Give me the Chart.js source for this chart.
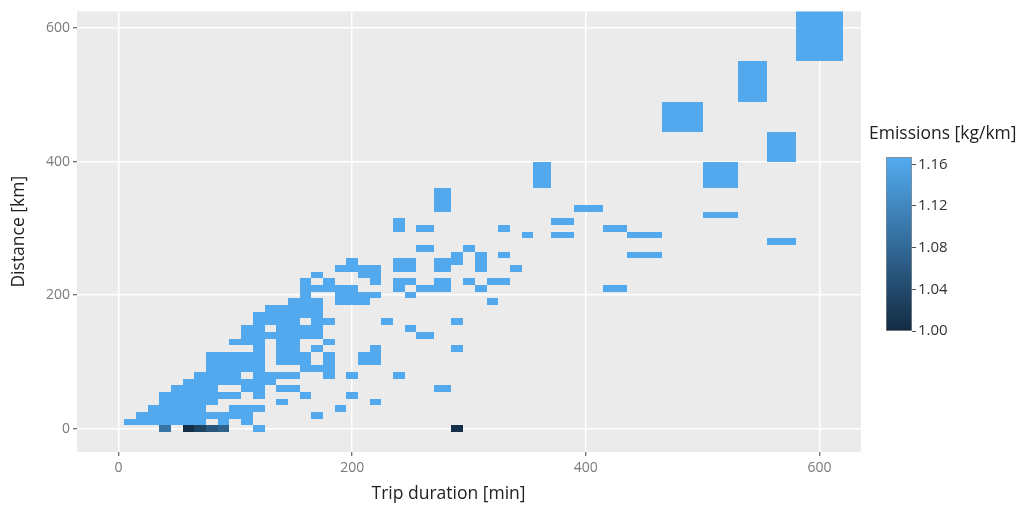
<!DOCTYPE html>
<html>
<head>
<meta charset="utf-8">
<script src="https://cdn.jsdelivr.net/npm/chart.js@4.4.0/dist/chart.umd.min.js"></script>
<style>
body{margin:0;background:#fff;font-family:"Open Sans",sans-serif}
#main{position:absolute;left:0;top:0;width:1023px;height:506px}
#bar{position:absolute;left:886px;top:146px;width:137px;height:196px}
#barTitle{position:absolute;left:869px;top:122px;font-size:17.5px;line-height:20px;color:#222;white-space:nowrap}
</style>
</head>
<body>
<div id="main"><canvas id="emissionChart"></canvas></div>
<div id="barTitle">Emissions [kg/km]</div>
<div id="bar"><canvas id="emissionScale"></canvas></div>
<script>
var xTicks = [0, 200, 400, 600];
var yTicks = [0, 200, 400, 600];
var colorTicks = [1.00, 1.04, 1.08, 1.12, 1.16];
var emissionRange = [1.00, 1.167];

// light tiles, one row per distance: [distance, [durations]]
var tileRows = [
  [0, [120]],
  [10, [10,20,30,40,50,60,70,90,110]],
  [20, [20,30,40,50,60,70,80,90,100,110,170]],
  [30, [30,40,50,60,70,100,110,120,190]],
  [40, [40,50,60,70,80,140,220]],
  [50, [40,50,60,70,80,90,100,120,160,200]],
  [60, [50,60,70,80,110,120,140,150,280]],
  [70, [60,70,80,90,100,110,120,130]],
  [80, [70,80,90,100,120,130,140,150,180,200,240]],
  [90, [80,90,100,110,120,160,170,180]],
  [100, [80,90,100,110,120,140,150,160,180,210,220]],
  [110, [80,90,100,110,120,140,150,160,180,210,220]],
  [120, [120,140,150,170,220,290]],
  [130, [100,110,120,140,150,180]],
  [140, [110,120,130,140,150,160,170,260]],
  [150, [110,120,140,150,160,170,250]],
  [160, [120,130,140,150,170,180,230,290]],
  [170, [120,130,140,150,160,170]],
  [180, [130,140,150,160,170]],
  [190, [150,160,170,190,200,210,320]],
  [200, [160,190,200,210,220,250]],
  [210, [160,170,180,190,200,240,260,280,310,430]],
  [220, [160,180,220,240,250,280,300,320,330]],
  [230, [170,210,220]],
  [240, [190,200,210,220,240,250,280,310,340]],
  [250, [200,240,250,280,290,310]],
  [260, [290,310,330,440]],
  [270, [260,300]],
  [280, [560]],
  [290, [350,380,440]],
  [300, [240,260,330,430]],
  [310, [240,380]],
  [320, [510]],
  [330, [280,400]],
  [340, [280]],
  [380, [360,510]],
  [420, [560]],
  [470, [490]],
  [510, [550]],
  [590, [600]]
];
var lightEmission = 1.165;

// darker tiles on the bottom row
var darkDuration = [40, 60, 70, 80, 90, 290];
var darkDistance = [0, 0, 0, 0, 0, 0];
var darkEmission = [1.095, 1.005, 1.03, 1.055, 1.07, 1.005];

var lowColor = [19, 43, 67];
var highColor = [83, 171, 240];

function tileColor(v) {
  var t = (v - emissionRange[0]) / (emissionRange[1] - emissionRange[0]);
  t = Math.max(0, Math.min(1, t));
  var c = lowColor.map(function(l, i){ return Math.round(l + (highColor[i] - l) * t); });
  return 'rgb(' + c.join(',') + ')';
}

// cell edges like a heatmap: halfway to the neighbouring values
function cellEdges(vals) {
  var n = vals.length, out = {};
  vals.forEach(function(v, i){
    var lo = i === 0 ? v - (vals[1] - v) / 2 : (vals[i-1] + v) / 2;
    var hi = i === n - 1 ? v + (v - vals[n-2]) / 2 : (v + vals[i+1]) / 2;
    out[v] = [lo, hi];
  });
  return out;
}

var tiles = [];
tileRows.forEach(function(r){
  r[1].forEach(function(d){ tiles.push({x: d, y: r[0], v: lightEmission}); });
});
darkDuration.forEach(function(d, i){
  tiles.push({x: d, y: darkDistance[i], v: darkEmission[i]});
});

function uniq(a){ return a.filter(function(v, i){ return a.indexOf(v) === i; }).sort(function(p, q){ return p - q; }); }
var xEdges = cellEdges(uniq(tiles.map(function(t){ return t.x; })));
var yEdges = cellEdges(uniq(tiles.map(function(t){ return t.y; })));

var tilePlugin = {
  id: 'tiles',
  beforeDraw: function(chart) {
    var a = chart.chartArea, c = chart.ctx;
    c.save();
    c.fillStyle = '#EBEBEB';
    c.fillRect(a.left, a.top, a.right - a.left, a.bottom - a.top);
    c.restore();
  },
  beforeDatasetsDraw: function(chart) {
    var a = chart.chartArea, c = chart.ctx;
    var xs = chart.scales.x, ys = chart.scales.y;
    c.save();
    c.beginPath();
    c.rect(a.left, a.top, a.right - a.left, a.bottom - a.top);
    c.clip();
    chart.data.datasets[0].data.forEach(function(p){
      var ex = xEdges[p.x], ey = yEdges[p.y];
      var x0 = Math.round(xs.getPixelForValue(ex[0])), x1 = Math.round(xs.getPixelForValue(ex[1]));
      var y0 = Math.round(ys.getPixelForValue(ey[1])), y1 = Math.round(ys.getPixelForValue(ey[0]));
      c.fillStyle = tileColor(p.v);
      c.fillRect(x0, y0, x1 - x0, y1 - y0);
    });
    c.restore();
  }
};

Chart.defaults.font.family = '"Open Sans", sans-serif';

new Chart(document.getElementById('emissionChart'), {
  type: 'scatter',
  data: { datasets: [{ data: tiles, pointRadius: 0, pointHoverRadius: 0 }] },
  options: {
    responsive: true,
    maintainAspectRatio: false,
    animation: false,
    events: [],
    layout: { padding: { top: 8, right: 162, left: 0, bottom: 0 } },
    plugins: { legend: { display: false }, tooltip: { enabled: false } },
    scales: {
      x: {
        type: 'linear', min: -35.5, max: 635.5,
        afterBuildTicks: function(s){ s.ticks = xTicks.map(function(v){ return {value: v}; }); },
        afterFit: function(s){ s.height = 54; },
        grid: { color: '#ffffff', lineWidth: 1.5, tickColor: '#444', tickLength: 4, tickWidth: 1 },
        border: { display: false },
        ticks: { color: '#7a7a7a', font: { size: 14 }, padding: 4, maxRotation: 0 },
        title: { display: true, text: 'Trip duration [min]' + '\u00a0'.repeat(9), color: '#222', font: { size: 17.5 }, padding: { top: 0, bottom: 1 } }
      },
      y: {
        type: 'linear', min: -35, max: 625,
        afterBuildTicks: function(s){ s.ticks = yTicks.map(function(v){ return {value: v}; }); },
        afterFit: function(s){ s.width = 77; },
        grid: { color: '#ffffff', lineWidth: 1.5, tickColor: '#444', tickLength: 4, tickWidth: 1 },
        border: { display: false },
        ticks: { color: '#7a7a7a', font: { size: 14 }, padding: 3 },
        title: { display: true, text: 'Distance [km]', color: '#222', font: { size: 17.5 }, padding: { top: 9, bottom: 0 } }
      }
    }
  },
  plugins: [tilePlugin]
});

new Chart(document.getElementById('emissionScale'), {
  type: 'bar',
  data: {
    labels: [''],
    datasets: [{
      data: [emissionRange],
      backgroundColor: function(ctx){
        var ca = ctx.chart.chartArea;
        if (!ca) return tileColor(1.08);
        var g = ctx.chart.ctx.createLinearGradient(0, ca.bottom, 0, ca.top);
        g.addColorStop(0, tileColor(emissionRange[0]));
        g.addColorStop(1, tileColor(emissionRange[1]));
        return g;
      },
      borderColor: '#8c8c8c', borderWidth: 1, borderSkipped: false,
      barPercentage: 1, categoryPercentage: 1
    }]
  },
  options: {
    responsive: true,
    maintainAspectRatio: false,
    animation: false,
    events: [],
    layout: { padding: { left: 0, bottom: 11, top: 10, right: 0 } },
    plugins: { legend: { display: false }, tooltip: { enabled: false } },
    scales: {
      x: { display: false },
      y: {
        position: 'right', min: emissionRange[0], max: emissionRange[1],
        afterBuildTicks: function(s){ s.ticks = colorTicks.map(function(v){ return {value: v}; }); },
        afterFit: function(s){ s.width = 111; },
        grid: { drawOnChartArea: false, tickLength: 4, tickColor: '#555' },
        border: { display: false },
        ticks: { color: '#333', font: { size: 15 }, padding: 2, callback: function(v){ return v.toFixed(2); } }
      }
    }
  }
});
</script>
</body>
</html>
